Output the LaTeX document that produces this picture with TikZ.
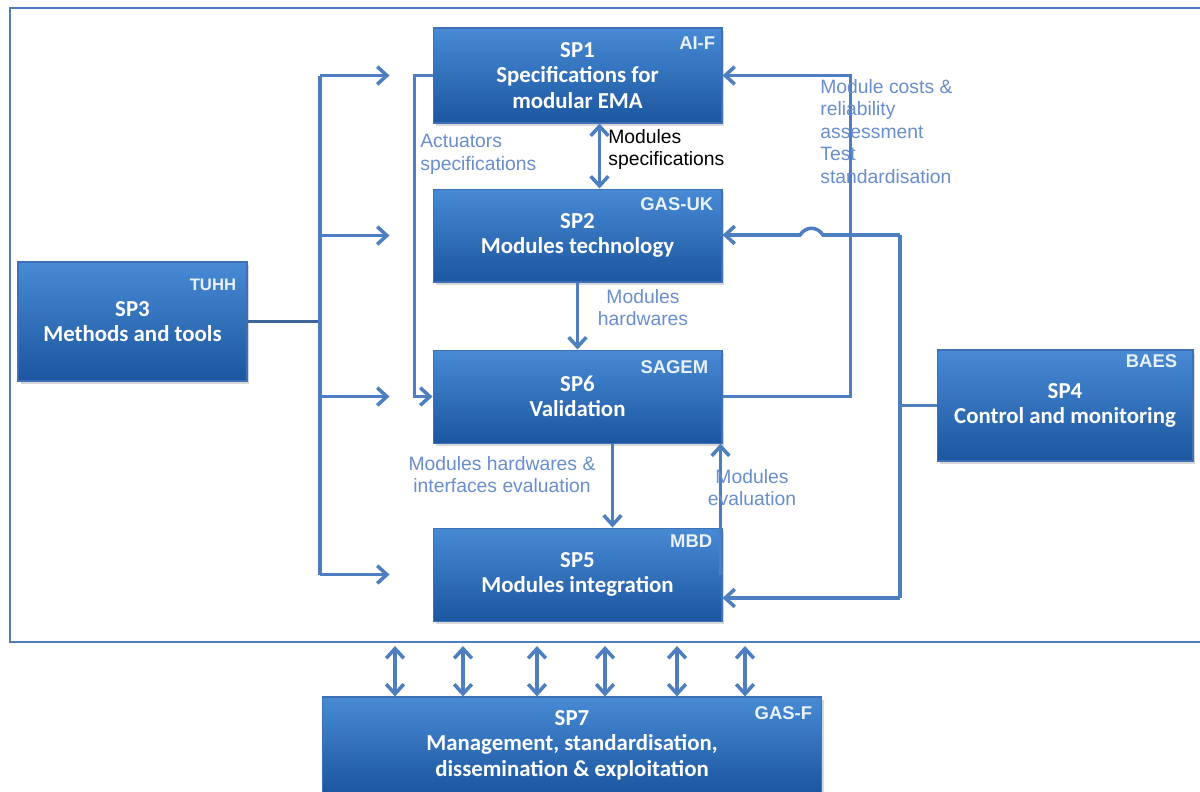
\documentclass[tikz,border=0pt]{standalone}
\usepackage{fontspec}
\setmainfont{Liberation Sans}
\newfontfamily\calibri{Carlito}
\usepackage{tikz}
\usetikzlibrary{arrows.meta, positioning, calc, shadows}

\definecolor{boxtop}{RGB}{72,138,212}
\definecolor{boxbot}{RGB}{28,86,160}
\definecolor{boxedge}{RGB}{62,112,182}
\definecolor{linkblue}{RGB}{76,126,192}
\definecolor{lbltext}{RGB}{104,142,206}

\begin{document}
\begin{tikzpicture}[
    x=0.02cm, y=-0.02cm,
    >={Straight Barb[length=5.5pt,width=10pt]},
    sp/.style={draw=boxedge, line width=0.6pt, top color=boxtop, bottom color=boxbot, text=white, align=center,
        font=\fontsize{13}{14.5}\selectfont\calibri\bfseries,
        drop shadow={opacity=0.3, shadow xshift=0.05cm, shadow yshift=-0.06cm}},
    tag/.style={anchor=north east, inner sep=0, text=white!88!boxtop, font=\fontsize{10.5}{11}\selectfont\bfseries},
    link/.style={draw=linkblue, line width=2pt},
    lbl/.style={inner sep=0, text=lbltext, font=\fontsize{11}{12.8}\selectfont}
]
\path[use as bounding box, fill=white] (0,0) rectangle (1200,791);
\clip (0,0) rectangle (1200,791);

% Frame
\draw[link, line width=1.5pt] (10,8) rectangle (1215,642);

% Work packages
\node[sp, minimum width=5.78cm, minimum height=1.9cm] (sp1) at (577.5,75.5) {SP1\\Specifications for\\modular EMA};
\node[sp, minimum width=5.78cm, minimum height=1.86cm, below=1.3cm of sp1] (sp2) {SP2\\Modules technology};
\node[sp, minimum width=5.78cm, minimum height=1.86cm, below=1.34cm of sp2] (sp6) {SP6\\Validation};
\node[sp, minimum width=5.78cm, minimum height=1.86cm, below=1.68cm of sp6] (sp5) {SP5\\Modules integration};
\node[sp, minimum width=4.58cm, minimum height=2.38cm] (sp3) at (132.5,321.5) {SP3\\Methods and tools};
\node[sp, minimum width=5.12cm, minimum height=2.22cm] (sp4) at (1065,405.5) {SP4\\Control and monitoring};
\node[sp, minimum width=10cm, minimum height=1.92cm] (sp7) at (572,745) {SP7\\Management, standardisation,\\dissemination \& exploitation};

% Partners
\node[tag] at ($(sp1.north east)+(-7,9)$) {AI-F};
\node[tag] at ($(sp2.north east)+(-9,9)$) {GAS-UK};
\node[tag] at ($(sp6.north east)+(-14,11)$) {SAGEM};
\node[tag] at ($(sp5.north east)+(-10,7)$) {MBD};
\node[tag, font=\fontsize{9.5}{10}\selectfont\bfseries] at ($(sp3.north east)+(-11,17)$) {TUHH};
\node[tag] at ($(sp4.north east)+(-16,5)$) {BAES};
\node[tag] at ($(sp7.north east)+(-10,10)$) {GAS-F};

% SP3 distribution
\coordinate (lbus) at (320,0);
\draw[link, draw=linkblue!80!black] (sp3.east) -- (sp3.east -| lbus);
\draw[link] (lbus |- sp1.west) -- (lbus |- sp5.west);
\foreach \n in {sp1,sp2,sp6,sp5}
    \draw[link,->] (lbus |- \n.west) -- ($(\n.west)+(-43,0)$);

% Flows between work packages
\draw[link,->] (sp1.west) -- ++(-18,0) |- (sp6.west);
\draw[link,<->] ($(sp1.south)+(22,0)$) -- ($(sp2.north)+(22,0)$);
\draw[link,->] (sp2.south) -- (sp6.north);
\draw[link,->] ($(sp6.south)+(35,0)$) -- ($(sp5.north)+(35,0)$);
\draw[link,->] ($(sp5.east)+(-2,0)$) -- ($(sp6.south east)+(-2,0)$);
\draw[link,->] (sp6.east) -- ++(128,0) |- (sp1.east);

% SP4 distribution
\coordinate (rtop) at (900,235);
\coordinate (rbot) at (900,598);
\draw[link] (sp4.west) -- (sp4.west -| rtop);
\draw[link] (rtop) -- (rbot);
\draw[link,->] (rtop) -- (823,235) .. controls (817,226) and (806,226) .. (800,235) -- (sp2.east |- rtop);
\draw[link,->] (rbot) -- (sp5.east |- rbot);

% SP7 links
\foreach \x in {395,463,537,605,677,745}{
    \coordinate (top) at (\x,646);
    \draw[link,<->] (top) -- (top |- sp7.north);
}

% Labels
\node[lbl, anchor=north west, align=left] at (420,134) {Actuators\\specifications};
\node[lbl, anchor=north west, align=left, text=black] at (608,129) {Modules\\specifications};
\node[lbl, anchor=north, align=center] at (643,289) {Modules\\hardwares};
\node[lbl, anchor=north, align=center] at (502,456) {Modules hardwares \&\\interfaces evaluation};
\node[lbl, anchor=north, align=center] at (752,469) {Modules\\evaluation};
\node[lbl, anchor=north west, align=left] at (820,79) {Module costs \&\\reliability\\assessment\\Test\\standardisation};

\end{tikzpicture}
\end{document}
